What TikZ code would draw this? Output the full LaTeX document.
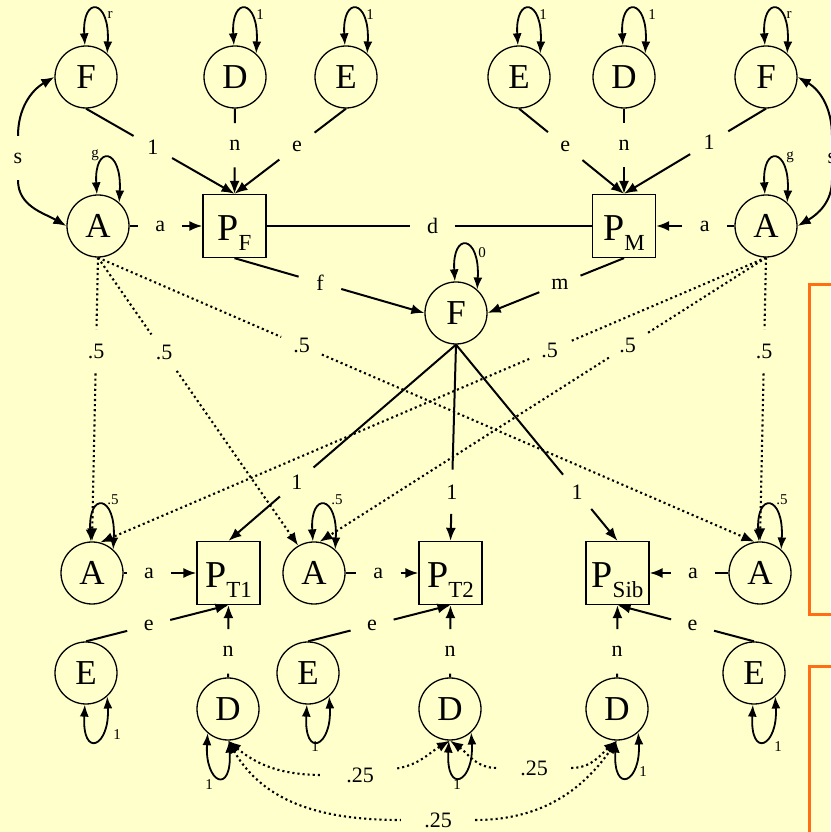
\documentclass[tikz,border=0pt]{standalone}
\usepackage{fontspec}
\setmainfont{Liberation Serif}
\usetikzlibrary{arrows.meta,calc}
\definecolor{bgc}{RGB}{255,255,204}
\definecolor{orng}{RGB}{255,110,20}
\newcommand\PP[1]{\rule{0pt}{39pt}P\raisebox{-10pt}{\fontsize{23}{23}\selectfont #1}}
\newcommand\sconn[5]{\path (#1) -- node[lab,pos=#3] (#4) {#5} (#2); \draw[ln] (#1) -- (#4); \draw[ln,arr] (#4) -- (#2);}
\newcommand\dconn[5]{\path (#1) -- node[lab,pos=#3] (#4) {#5} (#2); \draw[dl] (#1) -- (#4); \draw[dl,arr] (#4) -- (#2);}
\newcommand\uconn[5]{\path (#1) -- node[lab,pos=#3] (#4) {#5} (#2); \draw[ln] (#1) -- (#4); \draw[ln] (#4) -- (#2);}
\newcommand\toploop[4]{\draw[loopst] (#1.92) .. controls +(-3,50) and +(3,55) .. (#1.48); \node[ll] (#2) at ($(#1)+(#4)$) {#3};}
\newcommand\botloop[4]{\draw[loopst] (#1.268) .. controls +(-3,-55) and +(3,-50) .. (#1.312); \node[ll] (#2) at ($(#1)+(#4)$) {#3};}
\newcommand\botloopL[4]{\draw[loopst] (#1.230) .. controls +(-3,-50) and +(3,-55) .. (#1.272); \node[ll] (#2) at ($(#1)+(#4)$) {#3};}
\begin{document}
\begin{tikzpicture}[x=1pt,y=1pt,
  lat/.style={circle,draw,line width=1.3pt,minimum size=62pt,inner sep=0pt,font=\fontsize{35}{35}\selectfont},
  obs/.style={rectangle,draw,line width=1.3pt,minimum size=63pt,inner sep=0pt,font=\fontsize{38}{38}\selectfont},
  lab/.style={circle,minimum size=44pt,inner sep=0pt,font=\fontsize{22}{22}\selectfont},
  wlab/.style={rectangle,minimum width=74pt,minimum height=26pt,inner sep=0pt,font=\fontsize{22}{22}\selectfont},
  ll/.style={inner sep=0pt,font=\fontsize{15}{15}\selectfont},
  ln/.style={line width=2pt},
  dl/.style={line width=2.1pt,dash pattern=on 2.1pt off 3pt},
  arr/.style={-{Latex[length=13pt,width=10pt]}},
  arrb/.style={{Latex[length=13pt,width=10pt]}-},
  loopst/.style={line width=1.8pt,{Latex[length=12pt,width=9pt]}-{Latex[length=12pt,width=9pt]}}
]
\useasboundingbox (0,0) rectangle (830,832);
\fill[bgc] (0,0) rectangle (830,832);
\draw[orng,line width=3pt] (809.5,547) rectangle (860,217);
\draw[orng,line width=3pt] (809.5,165) rectangle (860,-30);
% nodes
\node[lat] (Ftl) at (86,755) {F};
\node[lat] (Dtl) at (235,755) {D};
\node[lat] (Etl) at (346,755) {E};
\node[lat] (Etr) at (519,755) {E};
\node[lat] (Dtr) at (624,755) {D};
\node[lat] (Ftr) at (766,755) {F};
\node[lat] (Al) at (98,606) {A};
\node[obs] (PF) at (234.5,606) {\PP{F}};
\node[obs] (PM) at (624,606) {\PP{M}};
\node[lat] (Ar) at (766,606) {A};
\node[lat] (Fm) at (456,519) {F};
\node[lat] (A1) at (92,259) {A};
\node[obs] (PT1) at (228.5,259) {\PP{T1}};
\node[lat] (A2) at (314,259) {A};
\node[obs] (PT2) at (450.5,259) {\PP{T2}};
\node[obs] (PSib) at (617.5,259) {\PP{Sib}};
\node[lat] (A3) at (760,259) {A};
\node[lat] (E1) at (86,159) {E};
\node[lat] (D1) at (228,123) {D};
\node[lat] (E2) at (308,159) {E};
\node[lat] (D2) at (450,123) {D};
\node[lat] (D3) at (617,123) {D};
\node[lat] (E3) at (754,159) {E};
% connectors
\sconn{Ftl.south}{PF.north}{0.45}{c1}{1}
\sconn{Dtl.south}{PF.north}{0.43}{c2}{n}
\sconn{Etl.south}{PF.north}{0.44}{c3}{e}
\sconn{Etr.south}{PM.north}{0.44}{c4}{e}
\sconn{Dtr.south}{PM.north}{0.43}{c5}{n}
\sconn{Ftr.south}{PM.north}{0.40}{c6}{1}
\sconn{Al.east}{PF.west}{0.42}{c7}{a}
\uconn{PF.east}{PM.west}{0.51}{c8}{d}
\sconn{Ar.west}{PM.east}{0.38}{c9}{a}
\sconn{PF.south}{Fm.west}{0.45}{c10}{f}
\sconn{PM.south}{Fm.east}{0.47}{c11}{m}
\sconn{Fm.south}{PT1.north}{0.70}{c12}{1}
\sconn{Fm.south}{PT2.north}{0.75}{c13}{1}
\sconn{Fm.south}{PSib.north}{0.75}{c14}{1}
\dconn{Al.south}{A1.north}{0.33}{c15}{.5}
\dconn{Al.south}{A2.120}{0.33}{c16}{.5}
\dconn{Al.south}{A3.100}{0.31}{c17}{.5}
\dconn{Ar.south}{A3.north}{0.33}{c18}{.5}
\dconn{Ar.south}{A2.80}{0.31}{c19}{.5}
\dconn{Ar.south}{A1.75}{0.325}{c20}{.5}
\sconn{A1.east}{PT1.west}{0.35}{c21}{a}
\sconn{A2.east}{PT2.west}{0.45}{c22}{a}
\sconn{A3.west}{PSib.east}{0.45}{c23}{a}
\sconn{E1.north}{PT1.south}{0.44}{c24}{e}
\sconn{D1.north}{PT1.south}{0.36}{c25}{n}
\sconn{E2.north}{PT2.south}{0.45}{c26}{e}
\sconn{D2.north}{PT2.south}{0.36}{c27}{n}
\sconn{D3.north}{PSib.south}{0.36}{c28}{n}
\sconn{E3.north}{PSib.south}{0.45}{c29}{e}
% loops
\toploop{Ftl}{r1}{r}{24,62}
\toploop{Dtl}{r2}{1}{25,62}
\toploop{Etl}{r3}{1}{24,62}
\toploop{Etr}{r4}{1}{24,62}
\toploop{Dtr}{r5}{1}{28,62}
\toploop{Ftr}{r6}{r}{23,62}
\toploop{Al}{r7}{g}{-3,71}
\toploop{Ar}{r8}{g}{24,69}
\toploop{Fm}{r9}{0}{26,60}
\toploop{A1}{r10}{.5}{21,73}
\toploop{A2}{r11}{.5}{23,73}
\toploop{A3}{r12}{.5}{22,73}
\botloop{E1}{r13}{1}{31,-62}
\botloop{E2}{r14}{1}{7,-74}
\botloop{E3}{r15}{1}{24,-74}
\botloopL{D1}{r16}{1}{-19,-76}
\botloop{D2}{r17}{1}{7,-76}
\botloop{D3}{r18}{1}{26,-63}
% s covariances
\node[lab] (sl) at (18,674) {s};
\node[lab] (sr) at (832,674) {s};
\draw[ln,arr] (sl) to[out=90,in=210] (Ftl.west);
\draw[ln,arr] (sl) to[out=-90,in=150] (Al.west);
\draw[ln,arr] (sr) to[out=90,in=-30] (Ftr.east);
\draw[ln,arr] (sr) to[out=-90,in=30] (Ar.east);
% .25 covariances
\node[wlab] (q1) at (360,57) {.25};
\node[wlab] (q2) at (534,64) {.25};
\node[wlab] (q3) at (438,12) {.25};
\draw[dl,arrb] (D1.south) to[out=-40,in=180] (q1);
\draw[dl,arr] (q1) to[out=10,in=-150] (D2.south);
\draw[dl,arrb] (D2.south) to[out=-35,in=180] (q2);
\draw[dl,arr] (q2) to[out=0,in=-140] (D3.south);
\draw[dl,arrb] (D1.south) to[out=-60,in=180] (q3);
\draw[dl,arr] (q3) to[out=0,in=-125] (D3.south);
\end{tikzpicture}
\end{document}
